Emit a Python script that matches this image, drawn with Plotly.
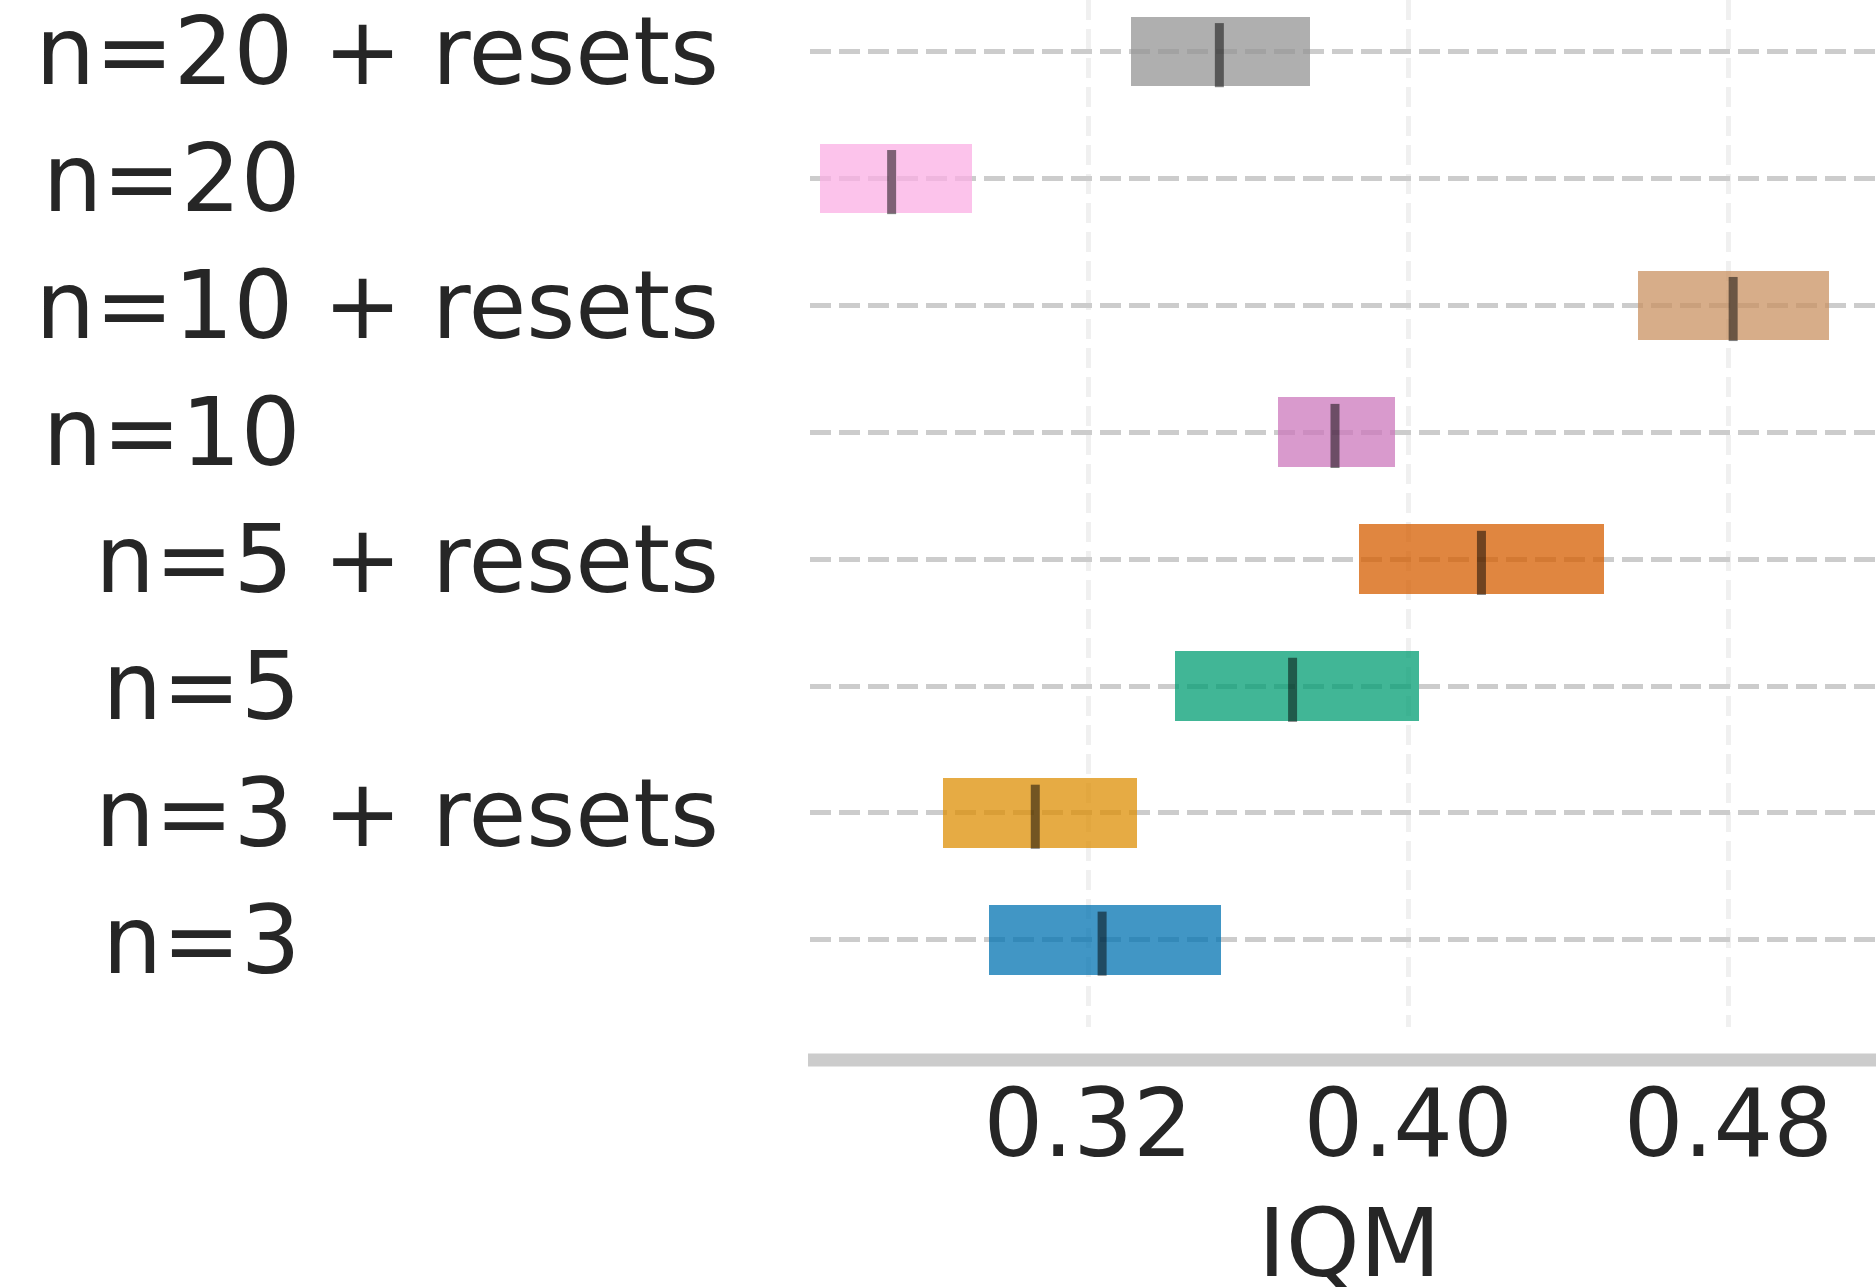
import plotly.graph_objects as go

# Interval estimates of IQM per configuration (bottom to top)
labels = ["n=3", "n=3 + resets", "n=5", "n=5 + resets",
          "n=10", "n=10 + resets", "n=20", "n=20 + resets"]
ci_low = [0.2953, 0.2838, 0.3417, 0.3877, 0.3674, 0.4574, 0.2530, 0.3306]
ci_high = [0.3532, 0.3322, 0.4027, 0.4490, 0.3967, 0.5052, 0.2911, 0.3755]
point_est = [0.3235, 0.3068, 0.3711, 0.4183, 0.3817, 0.4812, 0.2709, 0.3528]

# seaborn "colorblind" palette
palette = ["#0173b2", "#de8f05", "#029e73", "#d55e00",
           "#cc78bc", "#ca9161", "#fbafe4", "#949494"]

x_ticks = [0.32, 0.40, 0.48]
x_title = "IQM"


def rgba(hex_color, alpha):
    h = hex_color.lstrip("#")
    r, g, b = (int(h[i:i + 2], 16) for i in (0, 2, 4))
    return f"rgba({r},{g},{b},{alpha})"


def pad_label(text):
    # short labels keep the width of their "+ resets" counterpart
    if "resets" in text:
        return text
    return text + "\u00a0" * 14


rows = list(range(len(labels)))
FONT = "DejaVu Sans"
FS = 94
TEXT = "#262626"

fig = go.Figure()

fig.add_trace(go.Bar(
    y=rows,
    x=[hi - lo for lo, hi in zip(ci_low, ci_high)],
    base=ci_low,
    orientation="h",
    width=0.547,
    marker=dict(color=[rgba(c, 0.75) for c in palette], line=dict(width=0)),
    showlegend=False,
    hoverinfo="skip",
))

# point estimate markers
mx, my = [], []
for r, m in zip(rows, point_est):
    mx += [m, m, None]
    my += [r - 0.282, r + 0.223, None]
fig.add_trace(go.Scatter(
    x=mx, y=my, mode="lines",
    line=dict(color="rgba(0,0,0,0.5)", width=9),
    showlegend=False, hoverinfo="skip",
))

W, H = 1876, 1287
L, B = 810, 260
plot_w = W - L
plot_h = H - B

fig.update_layout(
    width=W, height=H,
    margin=dict(l=L, r=0, t=0, b=B, pad=0, autoexpand=False),
    paper_bgcolor="white",
    plot_bgcolor="white",
    font=dict(family=FONT, size=FS, color=TEXT),
    bargap=0,
    shapes=[dict(
        type="line", xref="paper", yref="paper",
        x0=-2 / plot_w, x1=1,
        y0=-(1060 - plot_h) / plot_h, y1=-(1060 - plot_h) / plot_h,
        line=dict(color="#cccccc", width=13),
    )],
    annotations=[dict(
        text=x_title, xref="paper", yref="paper",
        x=(1349 - L) / plot_w, y=-(1243 - plot_h) / plot_h,
        xanchor="center", yanchor="middle", showarrow=False,
        font=dict(family=FONT, size=FS, color=TEXT),
    )],
)

fig.update_xaxes(
    range=[0.2505, 0.5169],
    tickvals=x_ticks,
    ticktext=[f"{v:.2f}" for v in x_ticks],
    ticks="",
    showline=False,
    zeroline=False,
    showgrid=True,
    gridcolor="#f0f0f0",
    gridwidth=5,
    griddash="20px,9px",
    ticklabelstandoff=34,
    automargin=False,
    tickfont=dict(family=FONT, size=FS, color=TEXT),
)

fig.update_yaxes(
    range=[-0.686, 7.405],
    tickvals=rows,
    ticktext=[pad_label(t) for t in labels],
    ticks="",
    showline=False,
    zeroline=False,
    showgrid=True,
    gridcolor="#cccccc",
    gridwidth=5,
    griddash="21px,8px",
    ticklabelstandoff=90,
    ticklabeloverflow="allow",
    automargin=False,
    tickfont=dict(family=FONT, size=FS, color=TEXT),
)

fig.write_html("out.html")
